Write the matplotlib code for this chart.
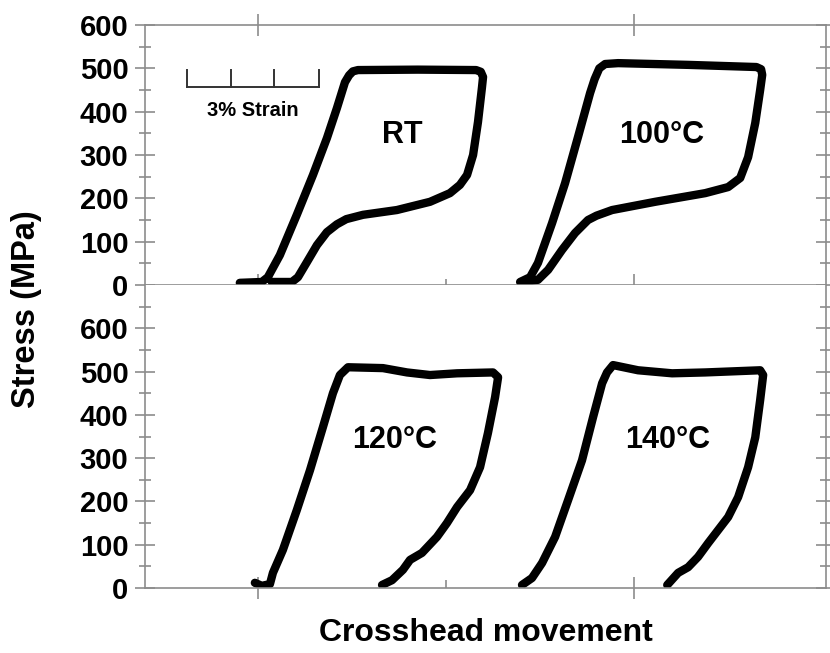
import matplotlib
matplotlib.use("Agg")
import matplotlib.pyplot as plt
from matplotlib.ticker import FixedLocator

plt.rcParams['font.family'] = ['Liberation Sans', 'DejaVu Sans']
plt.rcParams['font.weight'] = 'bold'

# curvas esfuerzo - desplazamiento (desplazamiento en unidades arbitrarias, esfuerzo en MPa)
rt_x = [-0.096, 0.021, 0.053, 0.117, 0.207, 0.293, 0.367, 0.420, 0.463, 0.485, 0.505, 0.532,
        0.850, 1.160, 1.185, 1.197, 1.191, 1.170, 1.144, 1.112, 1.074, 1.021, 0.915, 0.739,
        0.559, 0.470, 0.420, 0.367, 0.314, 0.261, 0.213, 0.181, 0.074]
rt_y = [5, 7, 18, 69, 162, 254, 339, 408, 468, 484, 493, 496,
        497, 496, 492, 480, 455, 376, 300, 254, 231, 212, 192, 173,
        162, 152, 140, 122, 92, 53, 18, 7, 7]

t100_x = [1.394, 1.447, 1.489, 1.564, 1.633, 1.702, 1.766, 1.790, 1.815, 1.846, 1.915, 2.287,
          2.650, 2.675, 2.681, 2.670, 2.644, 2.606, 2.564, 2.500, 2.378, 2.112, 1.883, 1.800,
          1.755, 1.686, 1.617, 1.543, 1.489, 1.420]
t100_y = [7, 18, 51, 143, 235, 342, 443, 475, 500, 510, 512, 508,
          503, 498, 485, 450, 374, 295, 247, 226, 212, 192, 173, 160,
          150, 120, 81, 35, 12, 7]

t120_x = [-0.016, 0.021, 0.064, 0.080, 0.133, 0.207, 0.277, 0.346, 0.399, 0.436, 0.479,
          0.665, 0.793, 0.915, 1.059, 1.250, 1.277, 1.261, 1.223, 1.181, 1.128, 1.059,
          1.005, 0.952, 0.872, 0.809, 0.771, 0.713, 0.660]
t120_y = [12, 5, 9, 35, 88, 180, 272, 372, 450, 492, 510,
          508, 498, 492, 496, 498, 487, 441, 358, 279, 226, 187,
          150, 118, 81, 65, 42, 18, 7]

t140_x = [1.404, 1.457, 1.511, 1.580, 1.649, 1.723, 1.782, 1.830, 1.856, 1.888, 2.021,
          2.202, 2.378, 2.670, 2.686, 2.670, 2.644, 2.606, 2.553, 2.500, 2.447, 2.394,
          2.340, 2.287, 2.234, 2.176]
t140_y = [7, 23, 58, 118, 203, 295, 395, 473, 498, 515, 503,
          496, 498, 503, 492, 434, 348, 279, 210, 164, 134, 104,
          72, 48, 35, 7]

etiquetas = ["RT", "100°C", "120°C", "140°C"]
etiqueta_x = [0.766, 2.144, 0.729, 2.181]
etiqueta_y = [346, 346, 342, 342]

# barra de escala: 3% de deformacion
barra_x = [-0.378, -0.145, 0.088, 0.324]
barra_y = 457
barra_alto = 39

gris = "#8c8c8c"
fig = plt.figure(figsize=(8.3, 6.53), dpi=100)
ax1 = fig.add_axes([145/830, 1-285/653, 681/830, 260/653])
ax2 = fig.add_axes([145/830, 1-588/653, 681/830, 303/653])

curvas = [(ax1, rt_x, rt_y), (ax1, t100_x, t100_y), (ax2, t120_x, t120_y), (ax2, t140_x, t140_y)]
for ax, x, y in curvas:
    ax.plot(x, y, color="black", lw=6, solid_joinstyle="round", solid_capstyle="round")

for i, txt in enumerate(etiquetas):
    ax = ax1 if i < 2 else ax2
    ax.text(etiqueta_x[i], etiqueta_y[i], txt, fontsize=22, fontweight="bold",
            ha="center", va="center")

# barra de escala
ax1.plot([barra_x[0], barra_x[-1]], [barra_y, barra_y], color="#333333", lw=1.4)
for bx in barra_x:
    ax1.plot([bx, bx], [barra_y, barra_y + barra_alto], color="#333333", lw=1.4)
ax1.text((barra_x[0] + barra_x[-1]) / 2, 402, "3% Strain", fontsize=14.5,
         fontweight="bold", ha="center", va="center")

ax1.set_ylim(0, 600)
ax2.set_ylim(0, 700)
for ax in (ax1, ax2):
    ax.set_xlim(-0.6, 3.02)
    for s in ax.spines.values():
        s.set_color(gris)
        s.set_linewidth(1.2)
    ax.set_yticks(range(0, 601, 100))
    ax.yaxis.set_minor_locator(FixedLocator(list(range(50, 651, 100))))
    ax.tick_params(axis="y", which="major", direction="inout", length=14, width=1.2,
                   color=gris, left=True, right=True, labelsize=21, pad=5)
    ax.tick_params(axis="y", which="minor", direction="inout", length=8, width=1.2,
                   color=gris, left=True, right=True)
    ax.set_xticks([0, 2])
    ax.set_xticks([1], minor=True)
    ax.set_xticklabels([])
    for lab in ax.get_yticklabels():
        lab.set_fontweight("bold")

ax2.spines["top"].set_visible(False)
ax1.tick_params(axis="x", which="major", direction="inout", length=16, width=1.2,
                color=gris, top=True, bottom=True)
ax1.tick_params(axis="x", which="minor", direction="inout", length=8, width=1.2,
                color=gris, top=False, bottom=True)
ax2.tick_params(axis="x", which="major", direction="inout", length=16, width=1.2,
                color=gris, top=False, bottom=True)
ax2.tick_params(axis="x", which="minor", direction="in", length=6, width=1.2,
                color=gris, top=False, bottom=True)

fig.text(27/830, 1-309/653, "Stress (MPa)", rotation=90, fontsize=23.5,
         fontweight="bold", ha="center", va="center")
fig.text(486/830, 1-633/653, "Crosshead movement", fontsize=23,
         fontweight="bold", ha="center", va="center")

fig.savefig("out.png", dpi=100)
plt.close(fig)
